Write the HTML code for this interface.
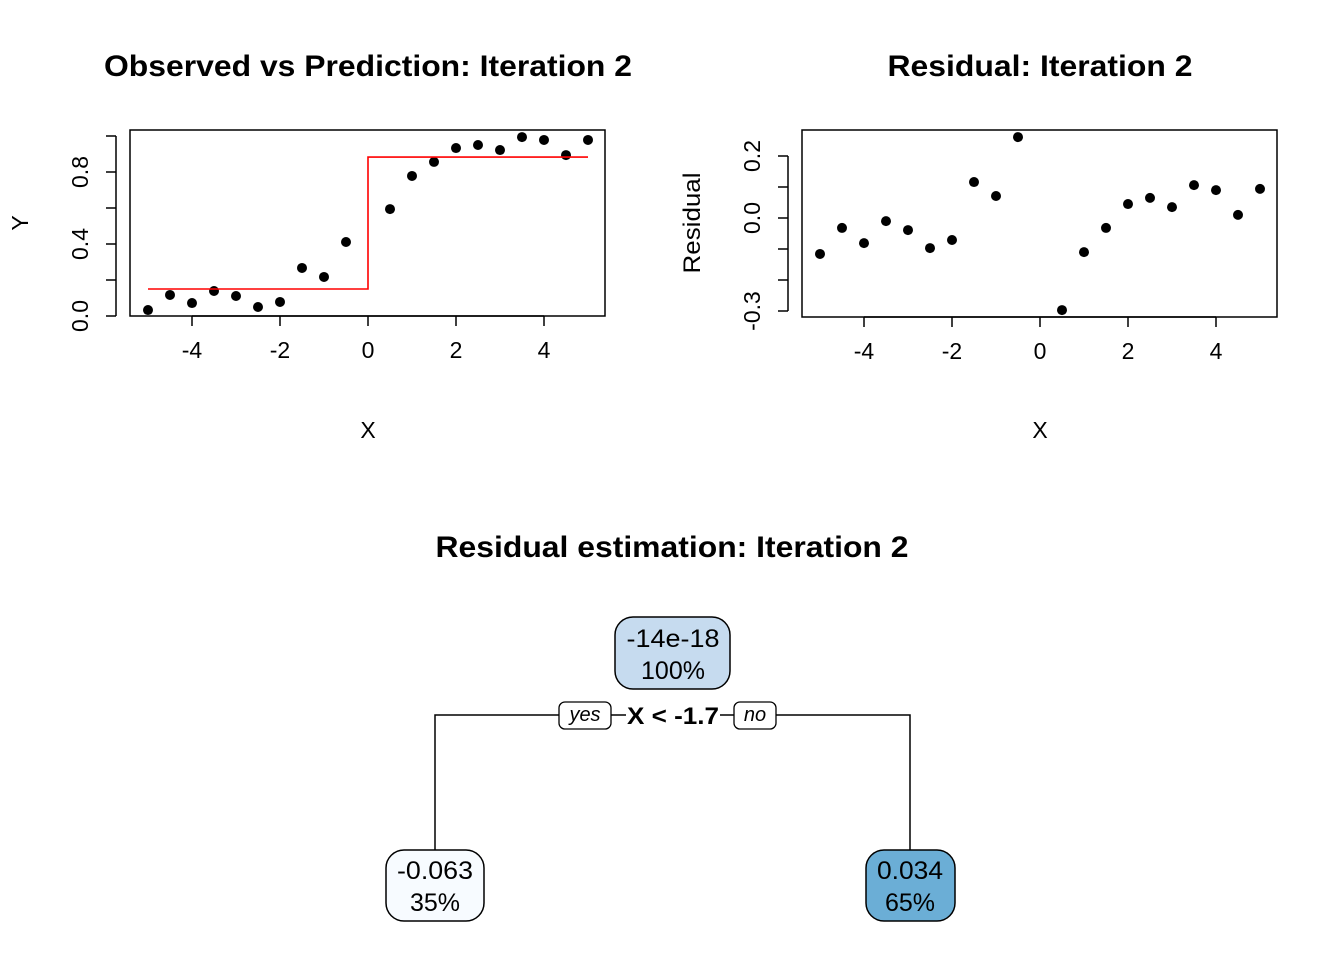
<!DOCTYPE html>
<html><head><meta charset="utf-8"><style>
body{margin:0;background:#fff;}
svg{display:block;font-family:"Liberation Sans",Arial,sans-serif;}
</style></head><body>
<svg id="s" width="1344" height="960">
<text x="368" y="76" font-size="30" font-weight="bold" text-anchor="middle" textLength="528" lengthAdjust="spacingAndGlyphs">Observed vs Prediction: Iteration 2</text>
<rect x="130" y="130" width="475" height="186" fill="none" stroke="#000" stroke-width="1.5"/>
<g id="p1x"></g>
<g id="p1y"></g>
<text x="368" y="438" font-size="23" text-anchor="middle">X</text>
<text transform="translate(28,223) rotate(-90)" font-size="23" text-anchor="middle">Y</text>
<g id="p1pts"></g>
<path id="p1line" fill="none" stroke="#f00" stroke-width="1.6"/>
<text x="1040" y="76" font-size="30" font-weight="bold" text-anchor="middle" textLength="305" lengthAdjust="spacingAndGlyphs">Residual: Iteration 2</text>
<rect x="802" y="130" width="475" height="187" fill="none" stroke="#000" stroke-width="1.5"/>
<g id="p2x"></g>
<g id="p2y"></g>
<text x="1040" y="438" font-size="23" text-anchor="middle">X</text>
<text transform="translate(700,223) rotate(-90)" font-size="24" text-anchor="middle" textLength="101" lengthAdjust="spacingAndGlyphs">Residual</text>
<g id="p2pts"></g>
<text x="672" y="557" font-size="30" font-weight="bold" text-anchor="middle" textLength="473" lengthAdjust="spacingAndGlyphs">Residual estimation: Iteration 2</text>
<path d="M435,850 V715 H560 M611,715 H626 M720,715 H734 M776,715 H910 V850" fill="none" stroke="#000" stroke-width="1.5"/>
<rect x="559" y="702" width="52" height="27" rx="6" fill="#fff" stroke="#000" stroke-width="1.3"/>
<text x="585" y="721" font-size="20" font-style="italic" text-anchor="middle">yes</text>
<rect x="734" y="702" width="42" height="27" rx="6" fill="#fff" stroke="#000" stroke-width="1.3"/>
<text x="755" y="721" font-size="20" font-style="italic" text-anchor="middle">no</text>
<text x="673" y="724" font-size="24" font-weight="bold" text-anchor="middle" textLength="92" lengthAdjust="spacingAndGlyphs">X &lt; -1.7</text>
<g>
<rect x="615" y="617" width="115" height="72" rx="18" fill="#c6dbef" stroke="#000" stroke-width="1.5"/>
<text x="673" y="647" font-size="25" text-anchor="middle" textLength="93" lengthAdjust="spacingAndGlyphs">-14e-18</text>
<text x="673" y="679" font-size="25" text-anchor="middle">100%</text></g>
<g>
<rect x="386" y="850" width="98" height="71" rx="18" fill="#f7fbff" stroke="#000" stroke-width="1.5"/>
<text x="435" y="879" font-size="25" text-anchor="middle" textLength="76" lengthAdjust="spacingAndGlyphs">-0.063</text>
<text x="435" y="911" font-size="25" text-anchor="middle">35%</text></g>
<g>
<rect x="866" y="850" width="89" height="71" rx="18" fill="#6baed6" stroke="#000" stroke-width="1.5"/>
<text x="910" y="879" font-size="25" text-anchor="middle" textLength="66" lengthAdjust="spacingAndGlyphs">0.034</text>
<text x="910" y="911" font-size="25" text-anchor="middle">65%</text></g>
</svg>
<script>
const xs=[-5,-4.5,-4,-3.5,-3,-2.5,-2,-1.5,-1,-0.5,0.5,1,1.5,2,2.5,3,3.5,4,4.5,5];
const observed=[0.033,0.117,0.072,0.139,0.111,0.05,0.078,0.267,0.217,0.411,0.594,0.778,0.856,0.933,0.95,0.922,0.994,0.978,0.894,0.978];
const predLeft=0.15, predRight=0.883, splitX=0;
const residuals=[-0.116,-0.032,-0.081,-0.010,-0.039,-0.097,-0.071,0.116,0.071,0.261,-0.297,-0.110,-0.032,0.045,0.065,0.035,0.106,0.090,0.010,0.094];
const xTicks=[-4,-2,0,2,4];
const y1Ticks=[0,0.2,0.4,0.6,0.8,1.0];
const y1Labels=["0.0","","0.4","","0.8",""];
const y2Ticks=[-0.3,-0.2,-0.1,0,0.1,0.2];
const y2Labels=["-0.3","","","0.0","","0.2"];
const NS="http://www.w3.org/2000/svg";
const x1=v=>368+44*v, y1=v=>316-180*v;
const x2=v=>1040+44*v, y2=v=>218-310*v;
function mk(t,a,p){const e=document.createElementNS(NS,t);for(const k in a)e.setAttribute(k,a[k]);p.appendChild(e);return e;}
function xAxis(g,f,base){
  mk('line',{x1:f(xTicks[0]),x2:f(xTicks[xTicks.length-1]),y1:base,y2:base,stroke:'#000','stroke-width':1.5},g);
  xTicks.forEach(v=>{mk('line',{x1:f(v),x2:f(v),y1:base,y2:base+10,stroke:'#000','stroke-width':1.5},g);
    const t=mk('text',{x:f(v),y:base+42,'font-size':23,'text-anchor':'middle'},g);t.textContent=v;
    
    });
}
function yAxis(g,f,ticks,labels,left){
  mk('line',{x1:left,x2:left,y1:f(ticks[0]),y2:f(ticks[ticks.length-1]),stroke:'#000','stroke-width':1.5},g);
  ticks.forEach((v,i)=>{mk('line',{x1:left,x2:left-10,y1:f(v),y2:f(v),stroke:'#000','stroke-width':1.5},g);
    if(labels[i]){const t=mk('text',{transform:`translate(${left-28},${f(v)}) rotate(-90)`,'font-size':23,'text-anchor':'middle'},g);t.textContent=labels[i];
    
    }});
}
xAxis(document.getElementById('p1x'),x1,316);
yAxis(document.getElementById('p1y'),y1,y1Ticks,y1Labels,116);
xAxis(document.getElementById('p2x'),x2,317);
yAxis(document.getElementById('p2y'),y2,y2Ticks,y2Labels,788);
const g1=document.getElementById('p1pts');
xs.forEach((x,i)=>{const c=mk('circle',{cx:x1(x),cy:y1(observed[i]),r:5,fill:'#000'},g1);
  
  });
const g2=document.getElementById('p2pts');
xs.forEach((x,i)=>{const c=mk('circle',{cx:x2(x),cy:y2(residuals[i]),r:5,fill:'#000'},g2);
  
  });
const xmin=xs[0],xmax=xs[xs.length-1];
document.getElementById('p1line').setAttribute('d',`M${x1(xmin)},${y1(predLeft)} H${x1(splitX)} V${y1(predRight)} H${x1(xmax)}`);
</script>
</body></html>
